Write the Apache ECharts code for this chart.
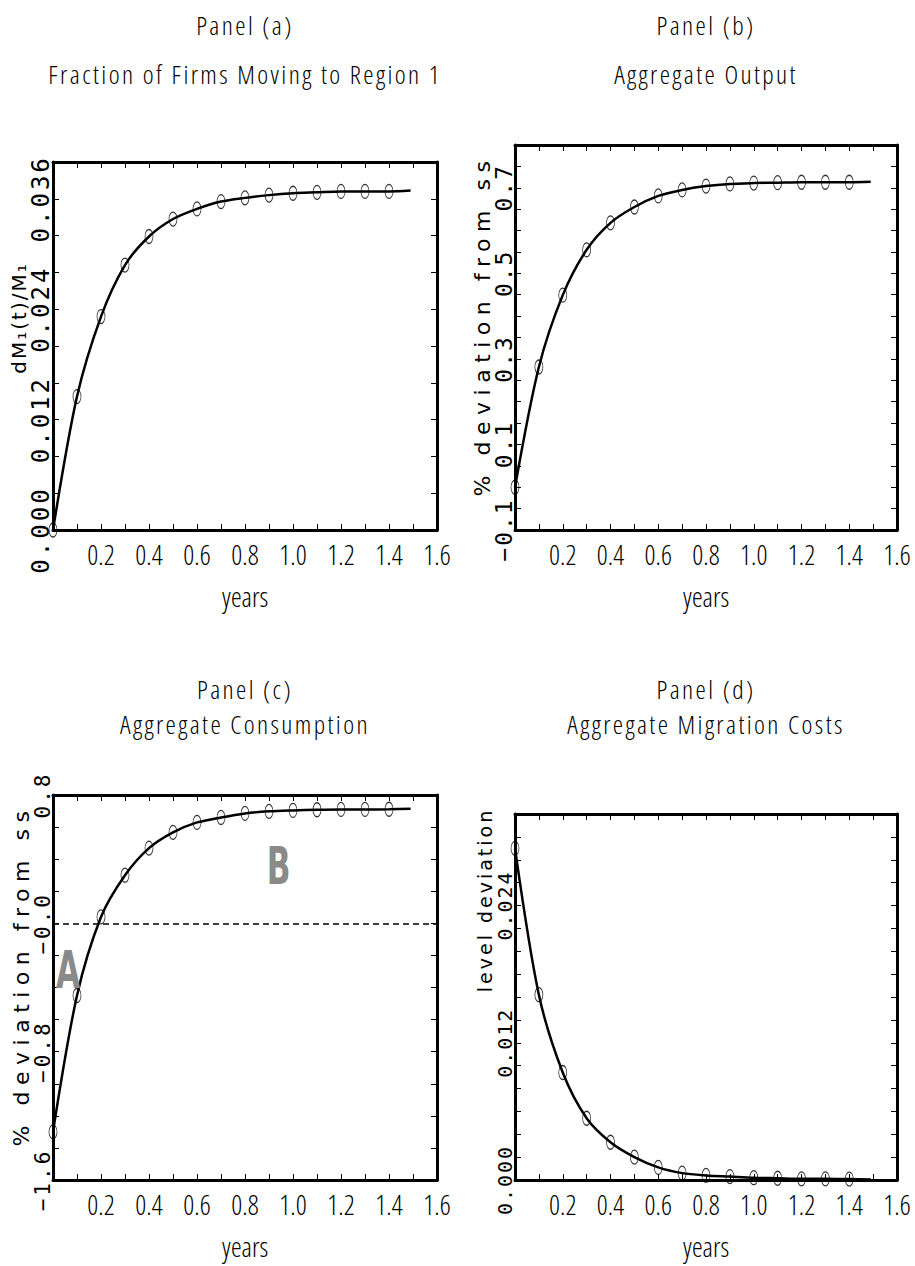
<!DOCTYPE html>
<html>
<head>
<meta charset="utf-8">
<script src="https://cdn.jsdelivr.net/npm/echarts@6/dist/echarts.min.js"></script>
<style>
html,body{margin:0;padding:0;background:#fff;}
#c{width:915px;height:1266px;}
svg text[style*="ttlx"]{font-family:'Open Sans',sans-serif !important;font-stretch:75% !important;font-weight:300 !important;letter-spacing:2.4px;}
svg text[style*="cndx"]{font-family:'Open Sans',sans-serif !important;font-stretch:75% !important;font-weight:300 !important;}
svg text[style*="ylabA"]{letter-spacing:3px;}
svg text[style*="ylabB"]{letter-spacing:2px;}
svg text[style*="ylabC"]{letter-spacing:3px;}
svg text[style*="ylabD"]{letter-spacing:2px;}
svg text[style*="ynamA"]{letter-spacing:2px;}
svg text[style*="ynamB"]{letter-spacing:6.5px;}
svg text[style*="ynamD"]{letter-spacing:3px;}
</style>
</head>
<body>
<div id="c"></div>
<script>
// ---------- data ----------
const markerYears = [0, 0.1, 0.2, 0.3, 0.4, 0.5, 0.6, 0.7, 0.8, 0.9, 1.0, 1.1, 1.2, 1.3, 1.4];
const lineEndYear = 1.49;
// values at markerYears; the final entry is the value at lineEndYear (end of curve)
const firmsMoving    = [0.0000, 0.0145, 0.0232, 0.0288, 0.0319, 0.0338, 0.0349, 0.0357, 0.0361, 0.0364, 0.0366, 0.0367, 0.0368, 0.0368, 0.0368, 0.0369];
const aggOutput      = [0.000, 0.281, 0.449, 0.555, 0.618, 0.655, 0.681, 0.695, 0.704, 0.709, 0.711, 0.712, 0.713, 0.713, 0.713, 0.714];
const aggConsumption = [-1.30, -0.45, 0.04, 0.30, 0.469, 0.567, 0.629, 0.660, 0.685, 0.698, 0.704, 0.708, 0.710, 0.710, 0.711, 0.714];
const migrationCosts = [0.0290, 0.0162, 0.0094, 0.0054, 0.0033, 0.0020, 0.0011, 0.0006, 0.0004, 0.0003, 0.0002, 0.00015, 0.0001, 0.0001, 0.00008, 0.00005];

const xTickLabels = ['0.2', '0.4', '0.6', '0.8', '1.0', '1.2', '1.4', '1.6'];
const aTickLabels = ['0.000', '0.012', '0.024', '0.036'];
const bTickLabels = ['-0.1', '0.1', '0.3', '0.5', '0.7'];
const cTickLabels = ['-1.6', '-0.8', '-0.0', '0.8'];
const dTickLabels = ['0.000', '0.012', '0.024'];

const annoText  = ['A', 'B'];
const annoYear  = [0.0625, 0.94];
const annoValue = [-0.29, 0.36];

// ---------- layout ----------
const panels = [
  {title: 'Panel (a)', sub: 'Fraction of Firms Moving to Region 1', cx: 245, tY: [12, 61],
   grid: {left: 53, top: 162, width: 384, height: 368}, yMin: 0, yMax: 0.04, yInt: 0.004,
   labels: aTickLabels, yName: 'dM\u2081(t)/M\u2081', vals: firmsMoving, lab: 'ylabA', labSize: 24,
   nam: 'ynamA', namSize: 20, nameGap: 24, nameShift: 56},
  {title: 'Panel (b)', sub: 'Aggregate Output', cx: 706, tY: [12, 61],
   grid: {left: 515, top: 145, width: 382, height: 385}, yMin: -0.1, yMax: 0.8, yInt: 0.05,
   labels: bTickLabels, yName: '% deviation from ss', vals: aggOutput, lab: 'ylabB', labSize: 23,
   nam: 'ynamB', namSize: 22, nameGap: 22, nameShift: 24},
  {title: 'Panel (c)', sub: 'Aggregate Consumption', cx: 245, tY: [676, 711],
   grid: {left: 53, top: 795, width: 384, height: 385}, yMin: -1.6, yMax: 0.8, yInt: 0.2,
   labels: cTickLabels, yName: '% deviation from ss', vals: aggConsumption, lab: 'ylabC', labSize: 21,
   nam: 'ynamB', namSize: 22, nameGap: 21, nameShift: 24},
  {title: 'Panel (d)', sub: 'Aggregate Migration Costs', cx: 706, tY: [676, 711],
   grid: {left: 515, top: 814, width: 382, height: 366}, yMin: 0, yMax: 0.032, yInt: 0.002,
   labels: dTickLabels, yName: 'level deviation', vals: migrationCosts, lab: 'ylabD', labSize: 20,
   nam: 'ynamD', namSize: 19, nameGap: 21, nameShift: 194}
];

const COND = "'Open Sans', cndx, sans-serif";
function pick(list) {
  return function (v) {
    for (const s of list) {
      if (Math.abs(parseFloat(s) - v) < 1e-7) return s.replace('-', '\u2212');
    }
    return '';
  };
}

const chart = echarts.init(document.getElementById('c'), null, {renderer: 'svg', width: 915, height: 1266});
const option = {animation: false, backgroundColor: '#fff', title: [], grid: [], xAxis: [], yAxis: [], series: []};

panels.forEach(function (p, i) {
  const ttlStyle = {fontFamily: "'Open Sans', ttlx, sans-serif", fontSize: 26, fontWeight: 'normal', color: '#000'};
  option.title.push({text: p.title, left: p.cx, top: p.tY[0], textAlign: 'center', padding: 0, textStyle: ttlStyle});
  option.title.push({text: p.sub, left: p.cx, top: p.tY[1], textAlign: 'center', padding: 0, textStyle: ttlStyle});
  option.grid.push(Object.assign({containLabel: false, outerBoundsMode: 'none', show: false}, p.grid));
  const axLine = {show: true, onZero: false, lineStyle: {color: '#000', width: 3}};
  const tick = {show: true, inside: true, length: 6, lineStyle: {color: '#000', width: 1}};
  option.xAxis.push({
    gridIndex: i, type: 'value', position: 'bottom', min: 0, max: 1.6, interval: 0.1,
    axisLine: axLine, axisTick: tick, splitLine: {show: false},
    axisLabel: {formatter: pick(xTickLabels), color: '#000', fontFamily: COND, fontSize: 27, margin: 11, showMinLabel: true, showMaxLabel: true},
    name: 'years', nameLocation: 'middle', nameGap: 53, nameMoveOverlap: false,
    nameTextStyle: {fontFamily: COND, fontSize: 27, color: '#000'}
  });
  option.xAxis.push({
    gridIndex: i, type: 'value', position: 'top', min: 0, max: 1.6, interval: 0.1,
    axisLine: axLine, axisTick: tick, splitLine: {show: false}, axisLabel: {show: false}
  });
  option.yAxis.push({
    gridIndex: i, type: 'value', position: 'left', min: p.yMin, max: p.yMax, interval: p.yInt,
    axisLine: axLine, axisTick: tick, splitLine: {show: false},
    axisLabel: {formatter: pick(p.labels), rotate: 90, margin: 0, color: '#000', fontFamily: "'DejaVu Sans Mono', " + p.lab, fontSize: p.labSize, showMinLabel: true, showMaxLabel: true},
    name: p.yName, nameLocation: 'middle', nameRotate: 90, nameGap: p.nameGap, nameMoveOverlap: false,
    nameTextStyle: {fontFamily: "'DejaVu Sans', " + p.nam, fontSize: p.namSize, color: '#000', padding: [0, 0, 0, p.nameShift]}
  });
  option.yAxis.push({
    gridIndex: i, type: 'value', position: 'right', min: p.yMin, max: p.yMax, interval: p.yInt,
    axisLine: axLine, axisTick: tick, splitLine: {show: false}, axisLabel: {show: false}
  });
  const lineData = markerYears.concat([lineEndYear]).map(function (x, k) { return [x, p.vals[k]]; });
  const lineSeries = {
    type: 'line', xAxisIndex: 2 * i, yAxisIndex: 2 * i, data: lineData, smooth: 0.3,
    showSymbol: false, symbol: 'none', silent: true, z: 3,
    lineStyle: {color: '#000', width: 2.5}
  };
  if (i === 2) {
    lineSeries.markLine = {
      symbol: ['none', 'none'], silent: true, label: {show: false},
      lineStyle: {type: [6, 4], color: '#000', width: 1.5},
      data: [{yAxis: 0}]
    };
  }
  option.series.push(lineSeries);
  option.series.push({
    type: 'scatter', xAxisIndex: 2 * i, yAxisIndex: 2 * i,
    data: markerYears.map(function (x, k) { return [x, p.vals[k]]; }),
    symbol: 'path://M5,0A5,5,0,1,1,5,10A5,5,0,1,1,5,0Z', symbolSize: [8, 14],
    itemStyle: {color: 'rgba(0,0,0,0)', borderColor: '#000', borderWidth: 1}, z: 4, silent: true
  });
});

chart.setOption(option);

const gfx = annoText.map(function (t, k) {
  const pt = chart.convertToPixel({seriesIndex: 4}, [annoYear[k], annoValue[k]]);
  return {
    type: 'text', x: pt[0], y: pt[1], scaleX: 0.6, z: 10,
    style: {text: t, fill: '#8a8a8a', fontSize: 52, fontWeight: 'bold', fontFamily: "'DejaVu Sans', sans-serif",
            align: 'center', verticalAlign: 'middle', textAlign: 'center', textVerticalAlign: 'middle'}
  };
});
chart.setOption({graphic: gfx});
</script>
</body>
</html>
